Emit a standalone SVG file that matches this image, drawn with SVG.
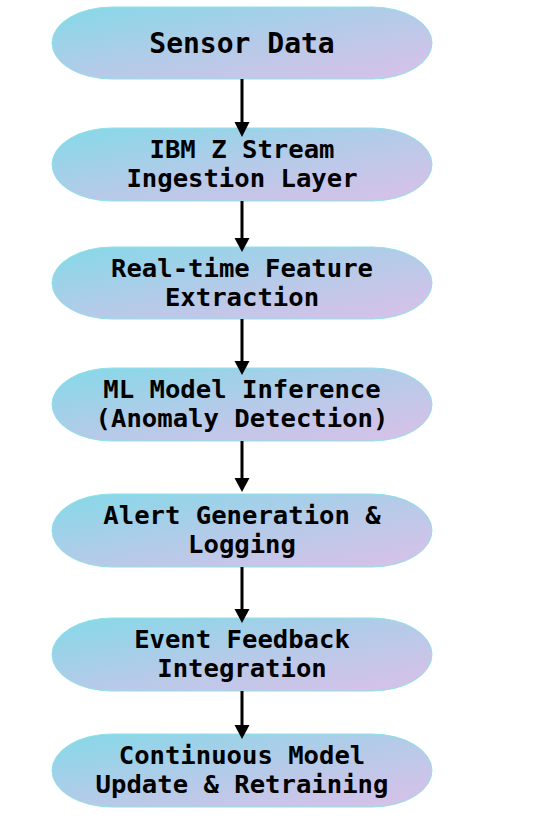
<svg xmlns="http://www.w3.org/2000/svg" width="537" height="823" viewBox="0 0 537 823">
<style>
.node rect{fill:url(#g);stroke:#8fe1ea;stroke-width:1}
.node text{font-family:"DejaVu Sans Mono",monospace;font-weight:bold;font-size:25.6px;fill:#000;text-anchor:middle}
.edges line{stroke:#000;stroke-width:3}
.edges path{fill:#000}
</style>
<defs>
<linearGradient id="g" x1="0" y1="0" x2="1" y2="1">
<stop offset="0" stop-color="#84d9e8"/>
<stop offset="0.5" stop-color="#b4cbe8"/>
<stop offset="1" stop-color="#dbc0e8"/>
</linearGradient>
</defs>
<g id="n1" class="node"><rect x="52" y="7" width="380" height="72" rx="60" ry="36"/><text x="242" y="53" style="font-size:28px">Sensor Data</text></g>
<g id="n2" class="node"><rect x="52" y="128" width="380" height="73" rx="60" ry="36.5"/><text x="242" y="158">IBM Z Stream</text><text x="242" y="187">Ingestion Layer</text></g>
<g id="n3" class="node"><rect x="52" y="247" width="380" height="72" rx="60" ry="36"/><text x="242" y="277">Real-time Feature</text><text x="242" y="306">Extraction</text></g>
<g id="n4" class="node"><rect x="52" y="368" width="380" height="73" rx="60" ry="36.5"/><text x="242" y="398">ML Model Inference</text><text x="242" y="427">(Anomaly Detection)</text></g>
<g id="n5" class="node"><rect x="52" y="494" width="380" height="73" rx="60" ry="36.5"/><text x="242" y="524">Alert Generation &amp;</text><text x="242" y="553">Logging</text></g>
<g id="n6" class="node"><rect x="52" y="618" width="380" height="73" rx="60" ry="36.5"/><text x="242" y="648">Event Feedback</text><text x="242" y="677">Integration</text></g>
<g id="n7" class="node"><rect x="52" y="734" width="380" height="73" rx="60" ry="36.5"/><text x="242" y="764">Continuous Model</text><text x="242" y="793">Update &amp; Retraining</text></g>
<g class="edges">
<line x1="242" y1="79" x2="242" y2="124"/><path d="M234.5,122 L249.5,122 L242,137 Z"/>
<line x1="242" y1="201" x2="242" y2="240"/><path d="M234.5,238 L249.5,238 L242,252 Z"/>
<line x1="242" y1="319" x2="242" y2="363"/><path d="M234.5,361 L249.5,361 L242,375 Z"/>
<line x1="242" y1="441" x2="242" y2="480"/><path d="M234.5,478 L249.5,478 L242,492 Z"/>
<line x1="242" y1="567" x2="242" y2="611"/><path d="M234.5,609 L249.5,609 L242,623 Z"/>
<line x1="242" y1="691" x2="242" y2="727"/><path d="M234.5,725 L249.5,725 L242,739 Z"/>
</g>
</svg>
